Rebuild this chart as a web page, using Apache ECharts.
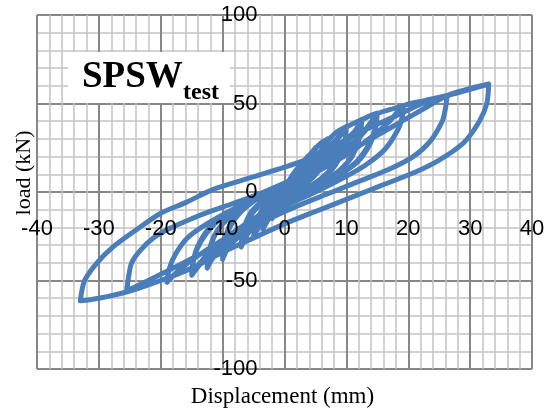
<!DOCTYPE html>
<html>
<head>
<meta charset="utf-8">
<script src="https://cdn.jsdelivr.net/npm/echarts@6/dist/echarts.min.js"></script>
<style>
  html, body { margin: 0; padding: 0; background: #fff; }
  #chart { width: 550px; height: 410px; }
</style>
</head>
<body>
<div id="chart"></div>
<script>
// Axis tick labels
const xTicks = [-40, -30, -20, -10, 0, 10, 20, 30, 40];
const yTicks = [-100, -50, 0, 50, 100];

// Hysteresis branches [displacement mm, load kN]
const cycle2 = [[0,0],[1,8],[2,13],[1.8,8],[1,2],[0,-4],[-1,-10],[-2,-15],[-1.8,-10],[-1,-4],[0,2],[1,8],[2,13],[3,17],[3.5,19]];
const cycle3a = [[3.3,13],[2.6,7],[1.5,2],[0,-4],[-1.5,-10],[-2.7,-16],[-3.5,-21],[-3.3,-15],[-2.6,-9],[-1.5,-3],[0,3],[1.5,9],[2.7,15],[3.5,19]];
const cycle3b = [[3.3,12],[2.5,6],[1.2,1],[-0.3,-5],[-1.8,-11],[-2.9,-17],[-3.5,-20],[-3.2,-14],[-2.4,-8],[-1.2,-2],[0.3,4],[1.8,10],[2.9,16],[3.5,19],[4.3,22],[5,25]];
const cycle5a = [[4.8,19],[4.1,12],[2.8,6],[1,1],[-1,-5],[-2.8,-12],[-4.1,-19],[-5,-26],[-4.8,-20],[-4.1,-13],[-2.8,-6],[-1,0],[1,6],[2.8,12],[4.1,19],[5,25]];
const cycle5b = [[4.7,18],[3.9,11],[2.5,5],[0.6,0],[-1.4,-6],[-3.1,-13],[-4.3,-20],[-5,-25],[-4.7,-19],[-3.9,-12],[-2.5,-5],[-0.6,1],[1.4,7],[3.1,13],[4.3,20],[5,24.5],[6,28],[7,30]];
const cycle7a = [[6.8,23],[6,15],[4.5,8],[2.5,3],[0,-3],[-2.5,-10],[-4.5,-17],[-6,-24],[-7,-31],[-6.8,-24],[-6,-16],[-4.5,-9],[-2.5,-3],[0,3],[2.5,10],[4.5,17],[6,24],[7,30]];
const cycle7b = [[6.7,22],[5.8,14],[4.2,7],[2,2],[-0.5,-4],[-3,-11],[-5,-19],[-6.3,-25],[-7,-30],[-6.7,-23],[-5.8,-15],[-4.2,-8],[-2,-2],[0.5,4],[3,11],[5,19],[6.3,25],[7,29.5]];
const cycle7c = [[6.6,21],[5.5,12],[3.5,5],[1,0],[-1.5,-6],[-3.8,-13],[-5.6,-21],[-6.6,-27],[-7,-29.5],[-6.6,-21],[-5.5,-12],[-3.5,-5],[-1,0],[1.5,6],[3.8,13],[5.6,21],[6.6,27],[7,29],[8.5,34],[10,37]];
const cycle10a = [[9.8,29],[9,20],[7.5,12],[5,5],[2,0],[-1,-6],[-4,-14],[-7,-24],[-9,-31],[-10,-38],[-9.8,-29],[-9,-20],[-7.5,-12],[-5,-5],[-2,1],[1,7],[4,15],[7,25],[9,32],[10,37]];
const cycle10b = [[9.7,28],[8.7,19],[7,11],[4.5,4],[1.5,-1],[-1.5,-7],[-4.5,-15],[-7.5,-25],[-9.3,-32],[-10,-37],[-9.7,-28],[-8.7,-19],[-7,-11],[-4.5,-4],[-1.5,2],[1.5,8],[4.5,16],[7.5,26],[9.3,33],[10,36.5],[11.3,39],[12.5,41]];
const cycle12a = [[12.2,32],[11.2,22],[9.5,14],[7,7],[4,1],[0.5,-5],[-3,-12],[-6.5,-21],[-9.5,-30],[-11.5,-37],[-12.5,-43],[-12.2,-34],[-11.2,-24],[-9.5,-16],[-7,-9],[-4,-3],[-0.5,3],[3,10],[6.5,19],[9.5,28],[11.5,35],[12.5,41]];
const cycle12b = [[12.1,31],[10.9,20],[8.8,12],[6,5],[2.8,0],[-0.8,-6],[-4.5,-14],[-8,-24],[-10.8,-33],[-12.5,-42],[-12.1,-32],[-10.9,-22],[-8.8,-14],[-6,-7],[-2.8,-1],[0.8,5],[4.5,13],[8,22],[10.8,31],[12.5,40.5],[13.8,43],[15,44.5]];
const cycle15a = [[14.7,36],[13.8,27],[11.8,17],[8.5,9],[5,3],[1,-4],[-3,-11],[-7,-20],[-10.5,-29],[-13,-38],[-15,-47],[-14.7,-38],[-13.8,-29],[-11.8,-19],[-8.5,-11],[-5,-5],[-1,1],[3,8],[7,17],[10.5,26],[13,35],[15,44.5]];
const cycle15b = [[14.6,35],[13.5,26],[11.3,16],[8,8],[4.5,2],[0.5,-5],[-3.5,-12],[-7.5,-21],[-11,-30],[-13.4,-39],[-15,-46],[-14.6,-37],[-13.5,-28],[-11.3,-18],[-8,-10],[-4.5,-4],[-0.5,2],[3.5,9],[7.5,18],[11,27],[13.4,36],[15,44],[17,46.5],[19.2,48.5]];
const cycle19 = [[19,42],[18.3,35],[16.2,24],[13,15],[9,7],[5,0],[0,-8],[-5,-17],[-10,-27],[-14,-36],[-17,-44],[-19,-51],[-18.6,-43],[-17.6,-35],[-15.7,-26],[-13,-19],[-9,-11],[-5,-4],[0,3],[5,11],[10,21],[14,31],[17,40],[19.2,48.5],[22.5,51.5],[26.3,54.5]];
const cycle26 = [[26,47],[25.5,40],[23.5,28.5],[20.8,20],[17,13],[12,6],[7,-1],[2,-8],[-3,-16],[-8,-25],[-13,-34],[-18,-43],[-22,-50],[-25.5,-56],[-25.2,-48],[-24.7,-40],[-23.3,-33],[-21.2,-26],[-18.5,-20.5],[-15.3,-15.5],[-12,-11],[-8.3,-6.5],[-4,-1],[0,5],[5,13],[10,22],[15,32],[19,40],[23,48],[26.3,54.5],[29.5,58],[33,61]];
const cycle33 = [[32.7,50],[31.5,40],[29,28],[25,18],[21,11],[15.5,3.5],[10.5,-3.5],[5,-11],[0,-18],[-5,-26],[-10,-34],[-15,-43],[-20,-50],[-25,-56],[-30,-60],[-33,-61.5],[-32.3,-50],[-30.3,-40],[-27.7,-31],[-24,-21.5],[-20,-12],[-16,-6],[-11.5,1.5],[-6,7.5],[0,14],[4,19],[8,26],[13,35],[18,43],[23,51],[28,56],[33,61]];

const path = [].concat(cycle2, cycle3a, cycle3b, cycle5a, cycle5b, cycle7a, cycle7b, cycle7c, cycle10a, cycle10b, cycle12a, cycle12b, cycle15a, cycle15b, cycle19, cycle26, cycle33);

const chart = echarts.init(document.getElementById('chart'), null, { renderer: 'canvas' });
const majorColor = '#878787';
const minorColor = '#c3c3c3';
const labelFont = { fontFamily: 'Liberation Sans', fontSize: 22, color: '#000' };
const xMin = xTicks[0], xMax = xTicks[xTicks.length - 1];
const yMin = yTicks[0], yMax = yTicks[yTicks.length - 1];

chart.setOption({
  animation: false,
  backgroundColor: '#fff',
  grid: { left: 37, right: 18, top: 15, bottom: 41, containLabel: false },
  xAxis: [{
    // grid lines
    type: 'value', position: 'top', z: 0,
    min: xMin, max: xMax, interval: 10,
    axisLine: { show: false }, axisTick: { show: false }, axisLabel: { show: false },
    splitLine: { show: true, lineStyle: { color: majorColor, width: 2 } },
    minorTick: { show: false, splitNumber: 5 },
    minorSplitLine: { show: true, lineStyle: { color: minorColor, width: 1.5 } }
  }, {
    // tick labels along the zero line
    type: 'value', position: 'bottom', offset: -177, z: 20,
    min: xMin, max: xMax, interval: 10,
    axisLine: { show: false, onZero: false }, axisTick: { show: false },
    splitLine: { show: false },
    axisLabel: Object.assign({ margin: 26, showMinLabel: true, showMaxLabel: true }, labelFont)
  }],
  yAxis: [{
    type: 'value', position: 'right', z: 0,
    min: yMin, max: yMax, interval: 50,
    axisLine: { show: false }, axisTick: { show: false }, axisLabel: { show: false },
    splitLine: { show: true, lineStyle: { color: majorColor, width: 2 } },
    minorTick: { show: false, splitNumber: 5 },
    minorSplitLine: { show: true, lineStyle: { color: minorColor, width: 1.5 } }
  }, {
    type: 'value', position: 'left', offset: -247.5, z: 20,
    min: yMin, max: yMax, interval: 50,
    axisLine: { show: false, onZero: false }, axisTick: { show: false },
    splitLine: { show: false },
    axisLabel: Object.assign({ margin: 27, showMinLabel: true, showMaxLabel: true }, labelFont)
  }],
  graphic: [
    { type: 'rect', z: 50, shape: { x: 68, y: 52, width: 162, height: 51 }, style: { fill: '#fff' } },
    { type: 'text', z: 51, x: 82, y: 77.5, style: { text: 'SPSW', font: 'bold 37px "Liberation Serif"', fill: '#000', textVerticalAlign: 'middle', textAlign: 'left' } },
    { type: 'text', z: 51, x: 183, y: 93, style: { text: 'test', font: 'bold 24px "Liberation Serif"', fill: '#000', textVerticalAlign: 'middle', textAlign: 'left' } },
    { type: 'text', z: 51, x: 282.5, y: 397, style: { text: 'Displacement (mm)', font: '23px "Liberation Serif"', fill: '#000', textVerticalAlign: 'middle', textAlign: 'center' } },
    { type: 'text', z: 51, x: 24, y: 173, rotation: Math.PI / 2, style: { text: 'load (kN)', font: '22px "Liberation Serif"', fill: '#000', textVerticalAlign: 'middle', textAlign: 'center' } }
  ],
  series: [{
    type: 'line',
    xAxisIndex: 0, yAxisIndex: 0,
    data: path,
    showSymbol: false,
    smooth: 0.3,
    lineStyle: { color: '#4a7ebb', width: 5, cap: 'round', join: 'round' },
    z: 10
  }]
});
</script>
</body>
</html>
